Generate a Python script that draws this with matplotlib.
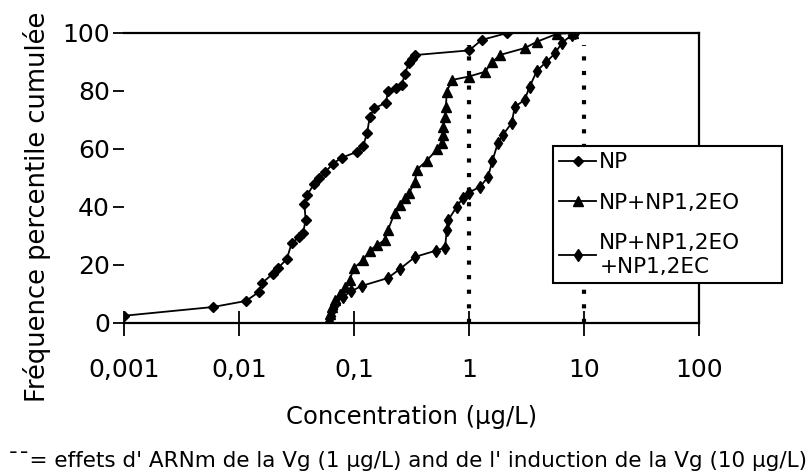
import numpy as np
import matplotlib
matplotlib.use('Agg')
import matplotlib.pyplot as plt
from matplotlib.ticker import NullLocator

# ---- data ----
np_x = [0.001, 0.0059, 0.0115, 0.0149, 0.0159, 0.0197, 0.0219, 0.026, 0.0287, 0.033,
        0.036, 0.038, 0.037, 0.039, 0.045, 0.05, 0.056, 0.066, 0.078, 0.106, 0.12, 0.13,
        0.137, 0.15, 0.19, 0.197, 0.23, 0.26, 0.277, 0.30, 0.32, 0.34, 1.0, 1.29, 2.15]
np_y = [2.5, 5.5, 7.6, 10.7, 13.8, 17, 19, 22, 27.5, 29.5,
        31, 35.5, 41, 44, 48, 50, 52, 55, 57, 59, 61, 65.5,
        71, 74, 76, 80, 81, 82, 86, 89.6, 91, 92.4, 94, 97.6, 100]

eo_x = [0.0607, 0.062, 0.064, 0.068, 0.075, 0.083, 0.092, 0.1, 0.12, 0.137, 0.16, 0.185,
        0.197, 0.226, 0.25, 0.28, 0.30, 0.34, 0.35, 0.43, 0.53, 0.58, 0.59, 0.60, 0.62,
        0.63, 0.64, 0.71, 1.0, 1.37, 1.6, 1.85, 3.05, 3.9, 5.8, 8.0]
eo_y = [1, 3, 5.5, 8, 10, 12.5, 15, 19, 21.7, 25, 27, 28.6,
        32, 38, 40.7, 43, 44.8, 48.6, 52.8, 56, 60, 62, 65, 67.6, 71,
        74.5, 79.7, 83.8, 85, 86.6, 90, 92.4, 94.8, 97, 99.7, 100]

ec_x = [0.0607, 0.063, 0.066, 0.07, 0.08, 0.095, 0.117, 0.197, 0.25, 0.34, 0.52, 0.62,
        0.64, 0.66, 0.78, 0.88, 1.0, 1.25, 1.46, 1.6, 1.78, 1.97, 2.35, 2.5, 3.05, 3.36,
        3.9, 4.7, 5.6, 6.4, 7.8, 8.4]
ec_y = [0.5, 2.5, 5, 7, 9, 11, 12.8, 15.5, 18.6, 22.8, 25, 26,
        32, 35.5, 40, 43, 45, 47, 50.3, 56, 62, 64.8, 69, 74.5, 77, 81.4,
        87, 90, 93, 96.5, 99.3, 100]

labels = ['NP', 'NP+NP1,2EO', 'NP+NP1,2EO\n+NP1,2EC']
markers = ['D', '^', 'd']
msizes = [5, 6.5, 6.5]

xticks = [0.001, 0.01, 0.1, 1, 10, 100]
xticklabels = ['0,001', '0,01', '0,1', '1', '10', '100']
yticks = [0, 20, 40, 60, 80, 100]
thresholds = [1, 10]      # Vg mRNA effect / Vg induction (ug/L)
thr_top = 96

caption = '\u00af\u00af= effets d\' ARNm de la Vg (1 \u00b5g/L) and de l\' induction de la Vg (10 \u00b5g/L)'

# ---- figure ----
fig = plt.figure(figsize=(8.1, 4.76), dpi=100)
ax = fig.add_axes([124/810, 1-323/476, 575/810, 290/476])

for xs, ys, lab, mk, ms in zip([np_x, eo_x, ec_x], [np_y, eo_y, ec_y], labels, markers, msizes):
    ax.plot(xs, ys, '-', color='black', lw=1.3, marker=mk, ms=ms, label=lab)

ax.vlines(thresholds, 0, thr_top, colors='black', linestyles=(0, (1, 2.5)), lw=3)

ax.set_xscale('log')
ax.set_xlim(0.001, 100); ax.set_ylim(0, 100)
ax.set_xticks(xticks); ax.set_xticklabels(xticklabels)
ax.xaxis.set_minor_locator(NullLocator())
ax.set_yticks(yticks)
ax.tick_params(axis='x', direction='inout', length=18, width=1.3, pad=16, labelsize=18)
ax.tick_params(axis='y', direction='out', length=8, width=1.3, pad=2, labelsize=18)
ax.spines['left'].set_visible(False)
for s in ['top', 'right', 'bottom']:
    ax.spines[s].set_linewidth(1.6)

ax.set_xlabel('Concentration (\u00b5g/L)', fontsize=17.5)
ax.xaxis.set_label_coords(0.5, (323-417)/290)
ax.xaxis.label.set_va('center')
ax.set_ylabel('Fr\u00e9quence percentile cumul\u00e9e', fontsize=18.5)
ax.yaxis.set_label_coords((37-124)/575, (323-207)/290)
ax.yaxis.label.set_va('center')

# legend box sticks out past the right spine, as in the original
leg = fig.legend(loc='upper left', bbox_to_anchor=(553/810, 1-285/476, 229/810, 139/476),
                 mode='expand', fontsize=15.5, frameon=True, fancybox=False, shadow=False,
                 borderaxespad=0, handlelength=1.7, handletextpad=0.15, labelspacing=0.95,
                 borderpad=0.3)
leg.get_frame().set_edgecolor('black'); leg.get_frame().set_linewidth(1.5)
leg.get_frame().set_alpha(1)

fig.text(8/810, 1-461/476, caption, fontsize=15.5, ha='left', va='center')

fig.savefig('out.png', dpi=100)
